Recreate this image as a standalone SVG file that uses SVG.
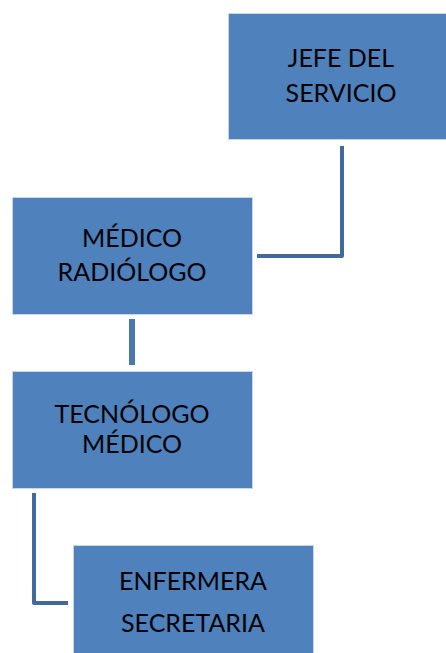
<svg xmlns="http://www.w3.org/2000/svg" width="446" height="653" viewBox="0 0 446 653">
  <style>
    .box { fill: #4f81bd; stroke: #c9d6e8; stroke-width: 1; }
    .lbl { font-family: Lato, "Open Sans", "Liberation Sans", sans-serif; font-size: 25px; fill: #000; text-anchor: middle; }
    .link { fill: none; stroke: #41699c; stroke-width: 4; stroke-linejoin: round; }
  </style>
  <rect width="446" height="653" fill="#ffffff"/>

  <g id="connectors">
    <path class="link" d="M342,146 V256 H257"/>
    <path class="link" d="M132,319 V365" style="stroke-width:6;stroke:#4a77ad"/>
    <path class="link" d="M34,493 V603 H68"/>
  </g>

  <g id="jefe-del-servicio">
    <rect class="box" x="228.5" y="13.5" width="220" height="126"/>
    <text class="lbl" x="341" y="67">JEFE DEL</text>
    <text class="lbl" x="341" y="102">SERVICIO</text>
  </g>

  <g id="medico-radiologo">
    <rect class="box" x="12.5" y="197.5" width="240" height="117"/>
    <text class="lbl" x="132" y="247">MÉDICO</text>
    <text class="lbl" x="132" y="281">RADIÓLOGO</text>
  </g>

  <g id="tecnologo-medico">
    <rect class="box" x="12.5" y="371.5" width="240" height="117"/>
    <text class="lbl" x="132" y="423">TECNÓLOGO</text>
    <text class="lbl" x="132" y="453">MÉDICO</text>
  </g>

  <g id="enfermera-secretaria">
    <rect class="box" x="73.5" y="545.5" width="240" height="120"/>
    <text class="lbl" x="193" y="590">ENFERMERA</text>
    <text class="lbl" x="193" y="632">SECRETARIA</text>
  </g>
</svg>
